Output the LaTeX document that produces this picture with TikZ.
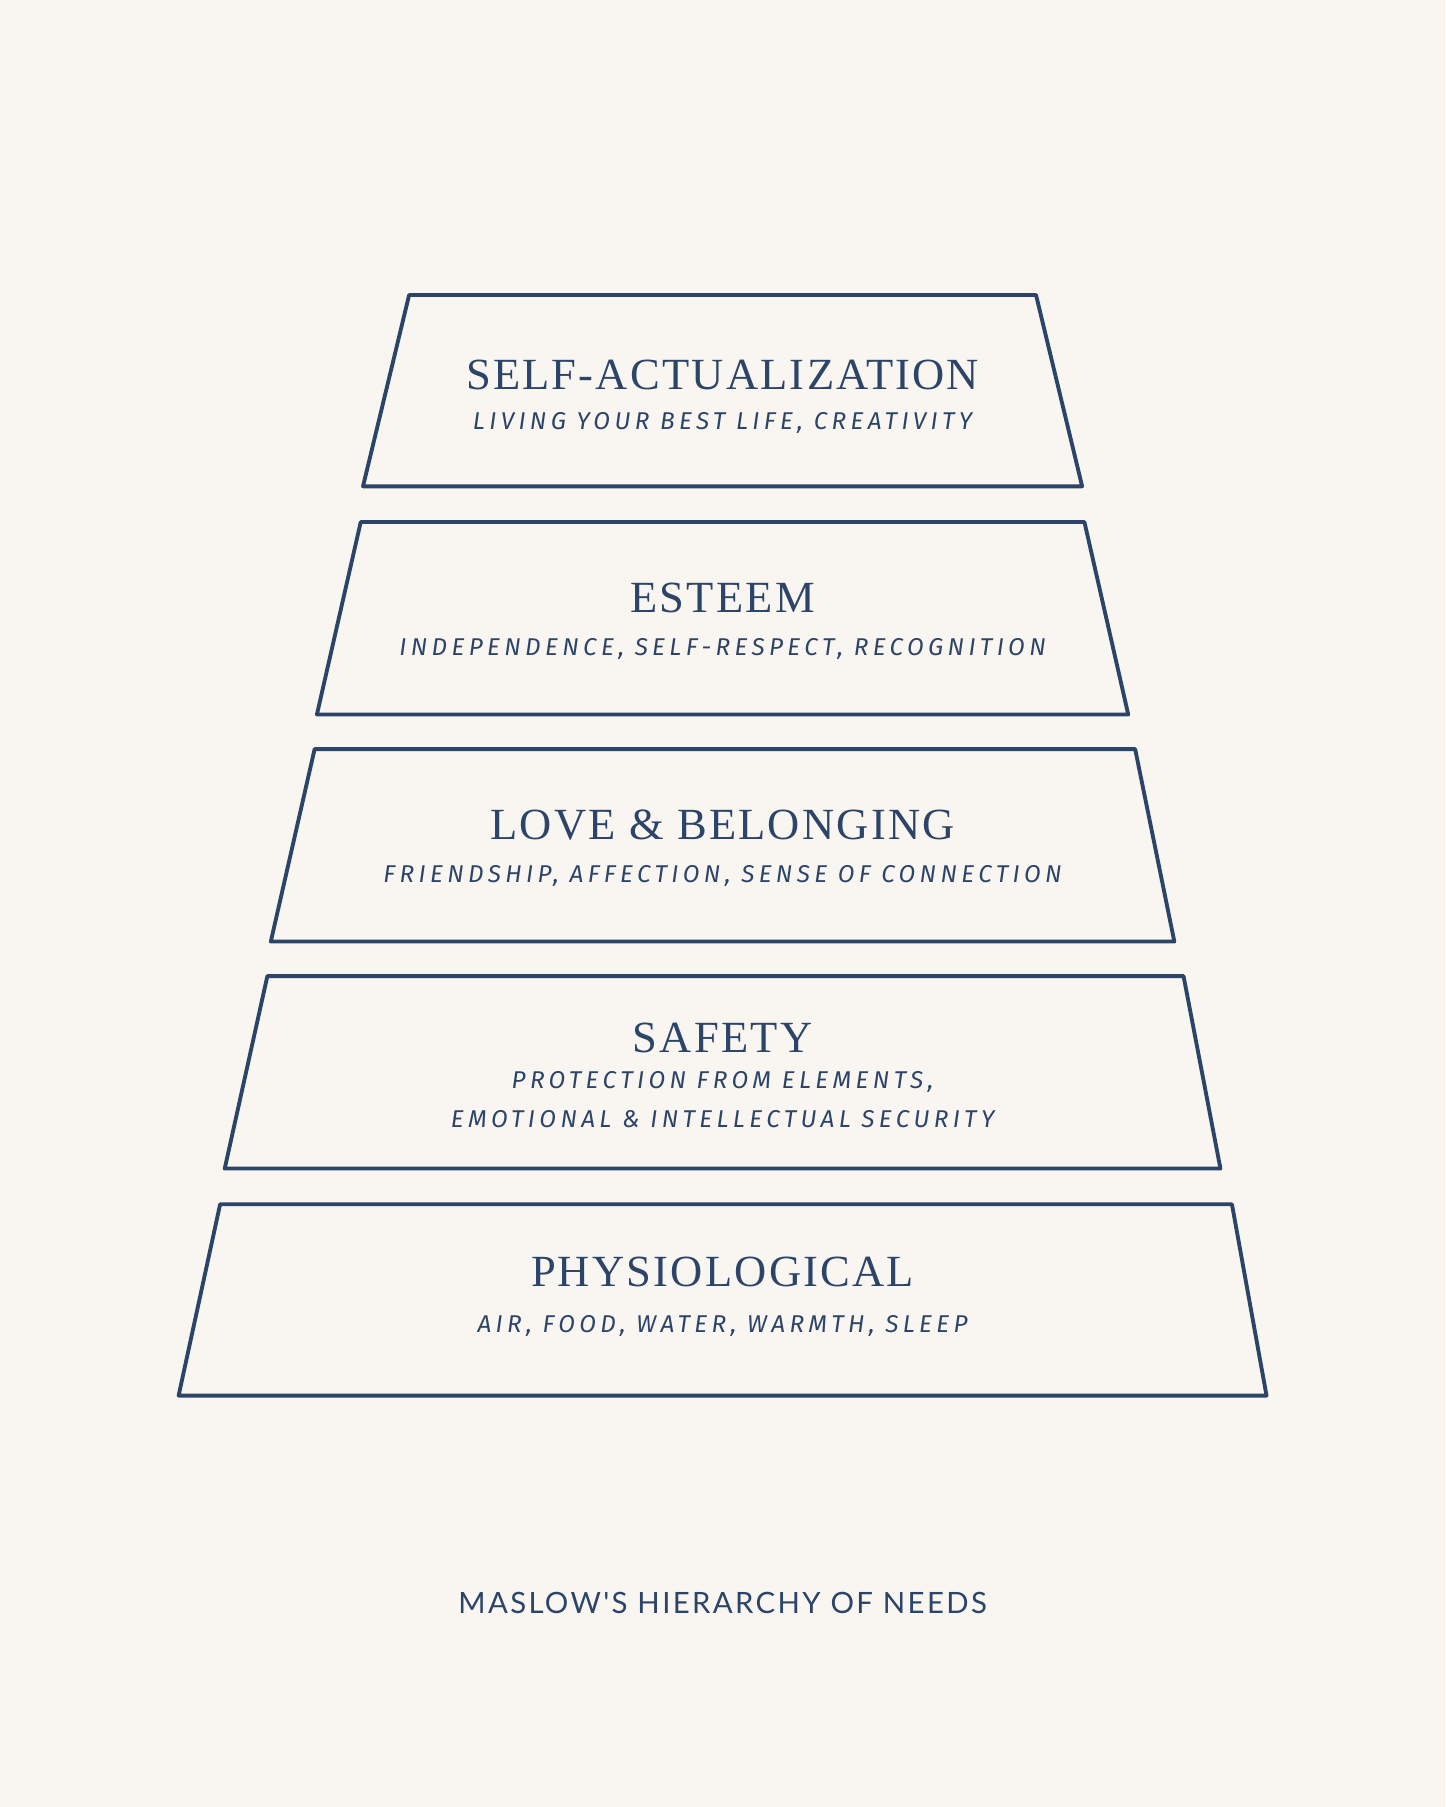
\documentclass[tikz,border=0pt]{standalone}
\usepackage{fontspec}
\setmainfont{Liberation Serif}
\newfontfamily\handfont[LetterSpace=18]{Fira Sans}
\newfontfamily\footfont[LetterSpace=8]{Lato}
\definecolor{paper}{HTML}{F9F5F0}
\definecolor{ink}{HTML}{2B4468}

\begin{document}
\begin{tikzpicture}[x=0.02cm,y=-0.02cm,
    tier/.style={draw=ink,line width=1.9pt,line join=round},
    title/.style={text=ink,font=\fontsize{22}{26}\selectfont\addfontfeature{LetterSpace=5}},
    needs/.style={text=ink,font=\handfont\itshape\fontsize{12}{19}\selectfont,align=center}]
  \fill[paper] (0,0) rectangle (1254,1568);
  \useasboundingbox (0,0) rectangle (1254,1568);
  % the five tiers, top to bottom
  \draw[tier] (355,256) -- (899,256) -- (939,422) -- (315,422) -- cycle;
  \draw[tier] (313,453) -- (941,453) -- (979,620) -- (275,620) -- cycle;
  \draw[tier] (273,650) -- (985,650) -- (1019,817) -- (235,817) -- cycle;
  \draw[tier] (232,847) -- (1027,847) -- (1059,1014) -- (195,1014) -- cycle;
  \draw[tier] (191,1045) -- (1069,1045) -- (1099,1211) -- (155,1211) -- cycle;
  % labels
  \node[title] (self) at (627,325) {SELF-ACTUALIZATION};
  \node[needs] (selfsub) at (627,367) {LIVING YOUR BEST LIFE, CREATIVITY};
  \node[title] (esteem) at (627,519) {ESTEEM};
  \node[needs] (esteemsub) at (627,563) {INDEPENDENCE, SELF-RESPECT, RECOGNITION};
  \node[title] (love) at (627,716) {LOVE \& BELONGING};
  \node[needs] (lovesub) at (627,760) {FRIENDSHIP, AFFECTION, SENSE OF CONNECTION};
  \node[title] (safety) at (627,901) {SAFETY};
  \node[needs] (safetysub) at (627,954) {PROTECTION FROM ELEMENTS,\\EMOTIONAL \& INTELLECTUAL SECURITY};
  \node[title] (body) at (627,1104) {PHYSIOLOGICAL};
  \node[needs] (bodysub) at (627,1151) {AIR, FOOD, WATER, WARMTH, SLEEP};
  \node[text=ink,font=\footfont\fontsize{14.5}{16}\selectfont] (caption) at (627,1391) {MASLOW'S HIERARCHY OF NEEDS};
\end{tikzpicture}
\end{document}
